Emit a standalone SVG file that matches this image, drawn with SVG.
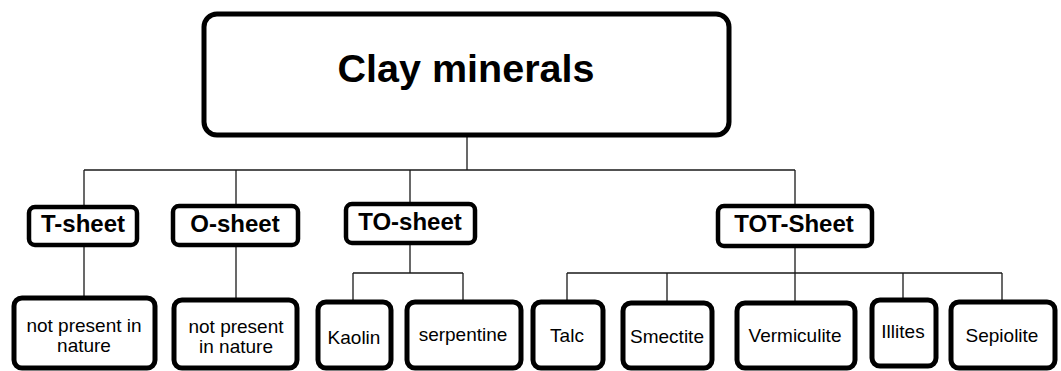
<svg xmlns="http://www.w3.org/2000/svg" width="1061" height="371" viewBox="0 0 1061 371">
<style>
.box{fill:#fff;stroke:#000}
.top{stroke-width:5}
.mid{stroke-width:4.5}
.leaf{stroke-width:5}
.c{stroke:#1a1a1a;stroke-width:1.3;fill:none}
.t{font-family:"Liberation Sans",Arial,sans-serif;fill:#000;text-anchor:middle}
.b{font-weight:bold;font-size:24px}
.r{font-size:19px}
</style>
<rect width="1061" height="371" fill="#fff"/>
<g id="connectors">
<path class="c" d="M467,136 V170 M84,170 H795 M84,170 V207 M236,170 V206 M410,170 V204 M795,170 V206"/>
<path class="c" d="M84,245 V298 M236,245 V300"/>
<path class="c" d="M410,243 V273 M353,273 H463 M353,273 V302 M463,273 V302"/>
<path class="c" d="M795,246 V273 M567,273 H1002 M567,273 V302 M667,273 V303 M795,273 V303 M903,273 V300 M1002,273 V302"/>
</g>
<g id="clay-minerals">
<rect class="box top" x="204" y="14" width="525" height="121" rx="13"/>
<text class="t" x="466" y="82" font-size="39.5" font-weight="bold">Clay minerals</text>
</g>
<g id="t-sheet">
<rect class="box mid" x="29" y="207" width="108" height="38" rx="6"/>
<text class="t b" x="83" y="232">T-sheet</text>
</g>
<g id="o-sheet">
<rect class="box mid" x="173" y="206" width="125" height="39" rx="6"/>
<text class="t b" x="235" y="232">O-sheet</text>
</g>
<g id="to-sheet">
<rect class="box mid" x="346" y="204" width="129" height="39" rx="6"/>
<text class="t b" x="410" y="230">TO-sheet</text>
</g>
<g id="tot-sheet">
<rect class="box mid" x="718" y="206" width="154" height="40" rx="6"/>
<text class="t b" x="794" y="232">TOT-Sheet</text>
</g>
<g id="t-leaf">
<rect class="box leaf" x="14" y="298" width="141" height="70" rx="8"/>
<text class="t r" x="84" y="332">not present in</text>
<text class="t r" x="84" y="352">nature</text>
</g>
<g id="o-leaf">
<rect class="box leaf" x="174" y="300" width="123" height="68" rx="8"/>
<text class="t r" x="236" y="333">not present</text>
<text class="t r" x="236" y="353">in nature</text>
</g>
<g id="kaolin">
<rect class="box leaf" x="318" y="302" width="73" height="66" rx="8"/>
<text class="t r" x="354" y="344">Kaolin</text>
</g>
<g id="serpentine">
<rect class="box leaf" x="407" y="302" width="114" height="66" rx="8"/>
<text class="t r" x="463" y="341">serpentine</text>
</g>
<g id="talc">
<rect class="box leaf" x="533" y="302" width="70" height="66" rx="8"/>
<text class="t r" x="567" y="342">Talc</text>
</g>
<g id="smectite">
<rect class="box leaf" x="623" y="303" width="89" height="65" rx="8"/>
<text class="t r" x="667" y="343">Smectite</text>
</g>
<g id="vermiculite">
<rect class="box leaf" x="737" y="303" width="118" height="65" rx="8"/>
<text class="t r" x="795" y="342">Vermiculite</text>
</g>
<g id="illites">
<rect class="box leaf" x="872" y="300" width="64" height="66" rx="8"/>
<text class="t r" x="903" y="338">Illites</text>
</g>
<g id="sepiolite">
<rect class="box leaf" x="951" y="302" width="104" height="66" rx="8"/>
<text class="t r" x="1002" y="342">Sepiolite</text>
</g>
</svg>
